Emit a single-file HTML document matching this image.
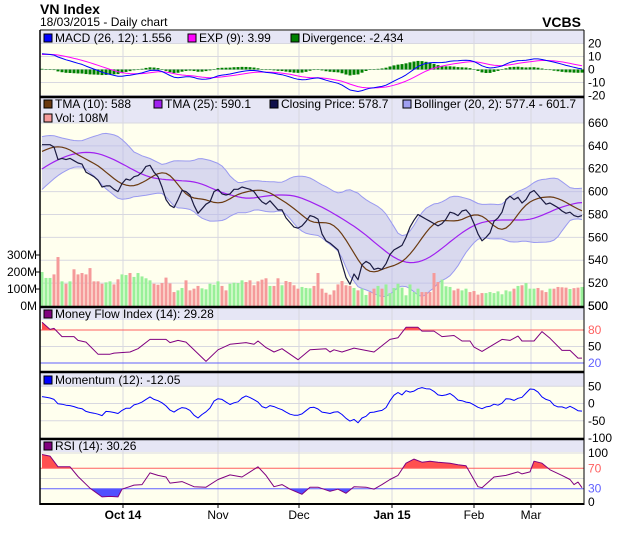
<!DOCTYPE html>
<html><head><meta charset="utf-8"><style>
body{margin:0;background:#fff;width:620px;height:535px;overflow:hidden;font-family:"Liberation Sans",Arial,sans-serif}
svg text{font-family:"Liberation Sans",Arial,sans-serif}
</style></head><body>
<svg id="c" width="620" height="535" xmlns="http://www.w3.org/2000/svg">
<text x="40" y="14" font-size="14" font-weight="bold">VN Index</text>
<text x="40" y="26" font-size="12">18/03/2015 - Daily chart</text>
<text x="581" y="27" font-size="14" font-weight="bold" text-anchor="end">VCBS</text>
</svg>
<script>
const priorClose=[582,585,589,593,596,600,603,606,609,612,615,617,619,621,623,625,627,629,631,633,635,636,638,639,640];
const closePrices=[641,641,641,639,628,629,628,629,627,625,624,617,615,613,610,604,605,605,602,600,607,611,610,613,614,617,622,623,617,613,604,593,588,586,593,601,600,597,588,581,585,589,591,600,602,598,597,598,602,602,604,603,602,600,595,591,589,592,588,584,584,577,573,569,568,570,574,579,578,576,563,557,555,552,549,537,525,519,528,523,536,539,537,532,533,532,537,545,549,551,553,560,569,575,580,578,576,574,572,570,572,576,582,581,579,583,584,580,572,563,557,560,564,574,577,582,593,596,593,595,590,593,599,601,597,593,589,590,588,586,583,581,582,579,578,579];
const volumes=[200,165,165,186,288,145,131,145,216,186,194,186,223,145,145,131,139,145,127,157,186,182,194,171,194,174,163,151,131,125,135,167,133,82,92,106,151,92,102,118,104,98,131,125,145,118,92,131,137,135,151,141,151,122,145,155,163,118,118,163,122,147,141,122,102,112,106,104,118,194,102,78,67,92,127,147,122,118,106,92,102,65,82,102,118,102,127,76,106,131,108,63,127,82,102,82,82,82,194,141,155,116,112,92,102,92,102,82,88,67,76,76,82,76,86,69,92,86,102,118,122,135,102,102,106,92,82,102,102,112,110,108,100,105,108,112];
const mfiDays=[0,2,3,5,8,9,11,14,17,18,22,24,27,31,32,34,36,41,44,47,51,53,54,56,58,60,64,67,71,72,73,75,78,83,87,89,91,94,95,98,100,103,105,107,108,110,115,117,119,120,123,125,127,130,132,134,135];
const mfiValues=[94,81,83,68,68,61,58,36,36,38,40,46,63,63,57,61,58,23,44,54,57,54,60,48,40,46,26,44,46,40,44,40,47,40,63,66,85,85,78,78,68,70,60,60,49,41,63,61,69,60,60,77,65,43,43,29,29];
const rsiDays=[0,2,4,7,9,12,15,17,19,20,23,25,27,29,31,32,35,38,41,44,47,50,52,54,56,58,60,62,65,67,69,72,74,76,78,81,83,85,87,89,91,93,95,97,99,102,104,106,109,110,113,116,119,120,122,123,125,127,130,132,133,134,135];
const rsiValues=[97,94,73,73,54,31,14,15,14,29,37,38,61,56,53,41,44,34,33,48,57,53,63,73,56,34,38,29,19,33,33,25,29,21,34,33,29,38,48,56,80,88,82,84,82,80,77,75,34,32,53,56,63,59,63,84,80,67,56,48,38,43,32];
const dateLabels=["Oct 14","Nov","Dec","Jan 15","Feb","Mar"];
const dateDays=[20.25,44,64.25,87.5,108,122.25];
const dateBold=[true,false,false,true,false,false];
const priceTicks=[500,520,540,560,580,600,620,640,660];
const volTicks=[0,100,200,300];
const macdTicks=[-20,-10,0,10,20];
const momTicks=[-100,-50,0,50];

const NS="http://www.w3.org/2000/svg";
const svg=document.getElementById('c');
function el(tag,attrs,parent){const e=document.createElementNS(NS,tag);for(const k in attrs)e.setAttribute(k,attrs[k]);(parent||svg).appendChild(e);return e;}
const N=closePrices.length;
const X0=40,X1=584;
const xOf=i=>42+i*4;
const full=priorClose.concat(closePrices);const P=priorClose.length;
function sma(a,n){return a.map((v,i)=>{let s=0,c=0;for(let j=Math.max(0,i-n+1);j<=i;j++){s+=a[j];c++;}return s/c;});}
function ema(a,n){const k=2/(n+1);let r=[];a.forEach((v,i)=>r.push(i?v*k+r[i-1]*(1-k):v));return r;}
function tma(a,n){return sma(sma(a,Math.ceil(n/2)),Math.floor(n/2)+1);}
const tma10=tma(full,10).slice(P),tma25=tma(full,25).slice(P);
const mid=sma(full,20);
const bbU=[],bbL=[];
full.forEach((v,i)=>{let s=0,c=0;for(let j=Math.max(0,i-19);j<=i;j++){s+=(full[j]-mid[i])**2;c++;}const sd=Math.sqrt(s/c);bbU.push(mid[i]+2*sd);bbL.push(mid[i]-2*sd);});
const bu=bbU.slice(P),bl=bbL.slice(P);
const e12=ema(full,12),e26=ema(full,26);
const macdF=e12.map((v,i)=>v-e26[i]);const sigF=ema(macdF,9);
const macd=macdF.slice(P),sig=sigF.slice(P),div=macd.map((v,i)=>v-sig[i]);
const mom=closePrices.map((v,i)=>v-full[P+i-12]);

function panel(name,top,hdrBottom,bottom){
  const g=el('g',{});
  
  
  el('rect',{x:X0,y:hdrBottom,width:X1-X0,height:bottom-hdrBottom,fill:'#ffffee'},g);
  const hb=el('rect',{x:X0,y:top,width:X1-X0,height:hdrBottom-top,fill:'#e6e6f5'},g);
  
  
  dateDays.forEach(d=>{const l=el('line',{x1:xOf(d),x2:xOf(d),y1:top,y2:bottom,stroke:'#d8d8e0','stroke-width':1},g);
    
    });
  return g;
}
function hgrid(g,y,color,w){const l=el('line',{x1:X0,x2:X1,y1:y,y2:y,stroke:color||'#d8d8e0','stroke-width':w||1},g);
  
  }
function ylabel(g,y,t,color){const tx=el('text',{x:588,y:y+4,'font-size':12,fill:color||'#000'},g);tx.textContent=t;
  
  }
function legend(g,x,y,color,text,name){const r=el('rect',{x:x,y:y-8,width:8,height:8,fill:color,stroke:'#000','stroke-width':1},g);
  
  
  const t=el('text',{x:x+11,y:y,'font-size':12},g);t.textContent=text;
  
  }
function path(g,vals,yf,color,w,name,days){let d='';vals.forEach((v,i)=>{const x=xOf(days?days[i]:i);d+=(i?'L':'M')+x.toFixed(1)+','+yf(v).toFixed(1);});
  const p=el('path',{d:d,fill:'none',stroke:color,'stroke-width':w||1,'stroke-linejoin':'round'},g);
  
  return p;}
let clipId=0;
function thresholdFill(g,vals,yf,th,above,color,name,days){
  const ty=yf(th);const id='cl'+(clipId++);
  const cp=el('clipPath',{id:id},g);
  el('rect',above?{x:X0,y:0,width:X1-X0,height:ty}:{x:X0,y:ty,width:X1-X0,height:600},cp);
  let d='M'+xOf(days?days[0]:0)+','+ty;
  vals.forEach((v,i)=>{d+='L'+xOf(days?days[i]:i).toFixed(1)+','+yf(v).toFixed(1);});
  d+='L'+xOf(days?days[vals.length-1]:vals.length-1)+','+ty+'Z';
  const p=el('path',{d:d,fill:color,'clip-path':'url(#'+id+')'},g);
  
  
}

// MACD panel
const yM=v=>69.5-v*1.3;
const gM=panel('macd-panel',31,43,96);
macdTicks.forEach(t=>{hgrid(gM,yM(t));ylabel(gM,yM(t),String(t));});
div.forEach((v,i)=>{const y0=yM(0),y1=yM(v);const r=el('rect',{x:xOf(i)-1.5,y:Math.min(y0,y1),width:3,height:Math.max(0.5,Math.abs(y1-y0)),fill:'#008000'},gM);
  
  });
path(gM,sig,yM,'#ff00ff',1,'exp-signal-line');
path(gM,macd,yM,'#0000ff',1,'macd-line');
legend(gM,44,42,'#0000ff','MACD (26, 12): 1.556','macd-legend');
legend(gM,188,42,'#ff00ff','EXP (9): 3.99','exp-legend');
legend(gM,291,42,'#008000','Divergence: -2.434','divergence-legend');

// Main panel
const yP=p=>306-(p-500)*1.144;
const yV=v=>306-v*0.17;
const gP=panel('price-panel',98,123,306);
priceTicks.forEach(t=>{hgrid(gP,yP(t));ylabel(gP,yP(t),String(t));});
volTicks.forEach(t=>{const tx=el('text',{x:37,y:yV(t)+4,'font-size':12,'text-anchor':'end'});tx.textContent=t+'M';
  
  
  if(t>0){const l=el('line',{x1:36,x2:40,y1:yV(t),y2:yV(t),stroke:'#000'});
  
  }});
let bd='';bu.forEach((v,i)=>{bd+=(i?'L':'M')+xOf(i)+','+yP(v).toFixed(1);});
for(let i=N-1;i>=0;i--)bd+='L'+xOf(i)+','+yP(bl[i]).toFixed(1);
const band=el('path',{d:bd+'Z',fill:'#b4b4ee','fill-opacity':0.5},gP);


path(gP,bu,yP,'#9a9af0',1,'bollinger-upper');
path(gP,bl,yP,'#9a9af0',1,'bollinger-lower');
volumes.forEach((v,i)=>{const up=i==0?true:closePrices[i]>=closePrices[i-1];
  const r=el('rect',{x:xOf(i)-1.5,y:yV(v),width:3,height:306-yV(v),fill:up?'#99f099':'#f59a9a'},gP);
  
  });
path(gP,tma25,yP,'#a020f0',1.2,'tma-25-line');
path(gP,tma10,yP,'#6b3a10',1.2,'tma-10-line');
path(gP,closePrices,yP,'#1a1a40',1.2,'closing-price-line');
legend(gP,44,108,'#6b3a10','TMA (10): 588','tma10-legend');
legend(gP,154,108,'#a020f0','TMA (25): 590.1','tma25-legend');
legend(gP,270,108,'#10104a','Closing Price: 578.7','close-legend');
legend(gP,403,108,'#a0a0f0','Bollinger (20, 2): 577.4 - 601.7','bollinger-legend');
legend(gP,44,122,'#f59a9a','Vol: 108M','volume-legend');
ylabel(gP,306,'500');

// MFI
const yF=v=>330+(80-v)*0.55;
const gF=panel('mfi-panel',308,320,371);
hgrid(gF,yF(50));
thresholdFill(gF,mfiValues,yF,80,true,'#ff5050','mfi-overbought-fill',mfiDays);
thresholdFill(gF,mfiValues,yF,20,false,'#5050ff','mfi-oversold-fill',mfiDays);
hgrid(gF,yF(80),'#ff6060');hgrid(gF,yF(20),'#6060ff');
ylabel(gF,yF(80),'80','#ff6060');ylabel(gF,yF(50),'50');ylabel(gF,yF(20),'20','#6060ff');
path(gF,mfiValues,yF,'#800080',1,'mfi-line',mfiDays);
legend(gF,44,318,'#800080','Money Flow Index (14): 29.28','mfi-legend');

// Momentum
const yO=v=>403.5-v*0.345;
const gO=panel('momentum-panel',373,386,438);
momTicks.forEach(t=>{hgrid(gO,yO(t));ylabel(gO,yO(t),String(t));});
path(gO,mom,yO,'#0000ff',1,'momentum-line');
legend(gO,44,384,'#0000ff','Momentum (12): -12.05','momentum-legend');

// RSI
const yR=v=>504-v*0.51;
const gR=panel('rsi-panel',440,452,504);
hgrid(gR,yR(50));hgrid(gR,yR(100));
thresholdFill(gR,rsiValues,yR,70,true,'#ff5050','rsi-overbought-fill',rsiDays);
thresholdFill(gR,rsiValues,yR,30,false,'#5050ff','rsi-oversold-fill',rsiDays);
hgrid(gR,yR(70),'#ff6060');hgrid(gR,yR(30),'#6060ff');
ylabel(gR,yR(100),'100');ylabel(gR,yR(70),'70','#ff6060');ylabel(gR,yR(30),'30','#6060ff');ylabel(gR,yR(0)-2,'0');
path(gR,rsiValues,yR,'#800080',1,'rsi-line',rsiDays);
legend(gR,44,450,'#800080','RSI (14): 30.26','rsi-legend');

// separators and borders
[[30,1],[97,2.5],[307,2.5],[372,2.5],[439,2.5],[504,2]].forEach(s=>{const l=el('line',{x1:X0,x2:X1,y1:s[0],y2:s[0],stroke:'#000','stroke-width':s[1]});
  
  });
const lb=el('line',{x1:X0,x2:X0,y1:30,y2:505,stroke:'#000','stroke-width':1.5});


const rb=el('line',{x1:X1,x2:X1,y1:30,y2:505,stroke:'#000','stroke-width':1});


dateLabels.forEach((t,i)=>{const tk=el('line',{x1:xOf(dateDays[i]),x2:xOf(dateDays[i]),y1:504,y2:508,stroke:'#000'});
  
  
  const tx=el('text',{x:xOf(dateDays[i]),y:519,'font-size':12,'text-anchor':'middle','font-weight':dateBold[i]?'bold':'normal'});
  tx.textContent=t;
  
  });
</script>
</body></html>
